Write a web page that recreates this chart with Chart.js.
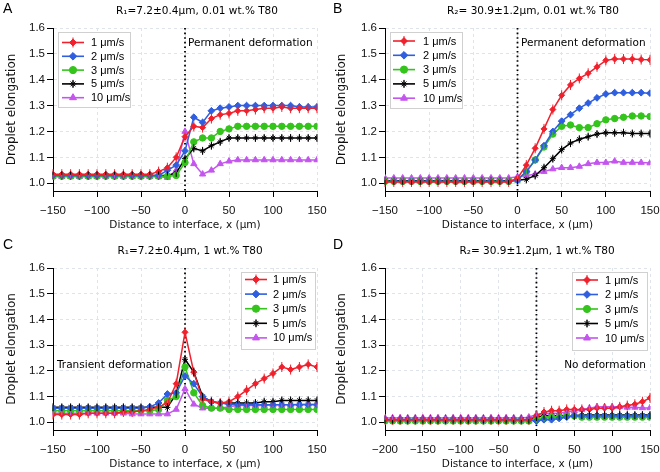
<!DOCTYPE html>
<html>
<head>
<meta charset="utf-8">
<script src="https://cdn.jsdelivr.net/npm/chart.js@4.4.0/dist/chart.umd.min.js"></script>
<style>
body { margin: 0; background: #fff; }
#wrap { position: relative; width: 660px; height: 472px; }
.cell { position: absolute; width: 330px; height: 236px; }
</style>
</head>
<body>
<div id="wrap">
  <div class="cell" style="left:0;top:0"><canvas id="cA" width="330" height="236"></canvas></div>
  <div class="cell" style="left:330px;top:0"><canvas id="cB" width="330" height="236"></canvas></div>
  <div class="cell" style="left:0;top:236px"><canvas id="cC" width="330" height="236"></canvas></div>
  <div class="cell" style="left:330px;top:236px"><canvas id="cD" width="330" height="236"></canvas></div>
</div>
<script>
// x positions (µm)
const xStd = [-150,-140,-130,-120,-110,-100,-90,-80,-70,-60,-50,-40,-30,-20,-10,0,10,20,30,40,50,60,70,80,90,100,110,120,130,140,150];
const xWide = [-200,-190,-180,-170,-160,-150,-140,-130,-120,-110,-100,-90,-80,-70,-60,-50,-40,-30,-20,-10,0,10,20,30,40,50,60,70,80,90,100,110,120,130,140,150];
const xTicksStd = [-150,-100,-50,0,50,100,150];
const xTicksWide = [-200,-150,-100,-50,0,50,100,150];
const yTicks = [1.0,1.1,1.2,1.3,1.4,1.5,1.6];
const speeds = ['1 μm/s','2 μm/s','3 μm/s','5 μm/s','10 μm/s'];

// A: R1, 0.01 wt.%
const a1 = [1.035,1.035,1.035,1.035,1.035,1.035,1.035,1.035,1.035,1.035,1.035,1.035,1.045,1.06,1.10,1.18,1.22,1.215,1.25,1.265,1.27,1.28,1.28,1.285,1.29,1.29,1.295,1.29,1.29,1.29,1.29];
const a2 = [1.03,1.03,1.03,1.03,1.03,1.03,1.03,1.03,1.03,1.03,1.03,1.03,1.03,1.05,1.07,1.125,1.255,1.235,1.28,1.29,1.295,1.30,1.30,1.30,1.30,1.30,1.30,1.30,1.295,1.295,1.295];
const a3 = [1.027,1.027,1.027,1.027,1.027,1.027,1.027,1.027,1.027,1.027,1.027,1.027,1.027,1.027,1.03,1.08,1.16,1.175,1.175,1.20,1.21,1.22,1.22,1.22,1.22,1.22,1.22,1.22,1.22,1.22,1.22];
const a4 = [1.03,1.03,1.03,1.03,1.03,1.03,1.03,1.03,1.03,1.03,1.03,1.03,1.03,1.03,1.04,1.095,1.135,1.125,1.145,1.16,1.175,1.175,1.175,1.175,1.175,1.175,1.175,1.175,1.175,1.175,1.175];
const a5 = [1.025,1.025,1.025,1.025,1.025,1.025,1.025,1.025,1.025,1.025,1.025,1.025,1.025,1.022,1.05,1.20,1.075,1.035,1.05,1.075,1.085,1.09,1.09,1.09,1.09,1.09,1.09,1.09,1.09,1.09,1.09];

// B: R2, 0.01 wt.%
const b1 = [1.005,1.005,1.005,1.005,1.005,1.005,1.005,1.005,1.005,1.005,1.005,1.005,1.005,1.005,1.005,1.02,1.07,1.135,1.21,1.285,1.34,1.38,1.405,1.425,1.45,1.475,1.48,1.48,1.48,1.478,1.477];
const b2 = [1.007,1.007,1.007,1.007,1.007,1.007,1.007,1.007,1.007,1.007,1.007,1.007,1.007,1.007,1.007,1.012,1.045,1.09,1.145,1.20,1.24,1.265,1.29,1.31,1.33,1.345,1.35,1.35,1.35,1.35,1.348];
const b3 = [1.007,1.007,1.007,1.007,1.007,1.007,1.007,1.007,1.007,1.007,1.007,1.007,1.007,1.007,1.007,1.012,1.045,1.09,1.14,1.19,1.22,1.225,1.215,1.215,1.23,1.245,1.25,1.255,1.26,1.26,1.258];
const b4 = [1.01,1.01,1.01,1.01,1.01,1.01,1.01,1.01,1.01,1.01,1.01,1.01,1.01,1.01,1.01,1.012,1.015,1.03,1.06,1.095,1.13,1.155,1.17,1.18,1.19,1.195,1.195,1.195,1.192,1.192,1.192];
const b5 = [1.02,1.02,1.02,1.02,1.02,1.02,1.02,1.02,1.02,1.02,1.02,1.02,1.02,1.02,1.02,1.025,1.03,1.035,1.045,1.055,1.06,1.06,1.065,1.075,1.08,1.08,1.085,1.08,1.08,1.08,1.078];

// C: R1, 1 wt.%
const c1 = [1.03,1.03,1.03,1.03,1.035,1.035,1.035,1.035,1.04,1.04,1.045,1.05,1.06,1.075,1.15,1.35,1.195,1.09,1.08,1.075,1.08,1.10,1.125,1.15,1.17,1.19,1.215,1.205,1.215,1.225,1.215];
const c2 = [1.055,1.055,1.055,1.055,1.055,1.055,1.055,1.055,1.055,1.055,1.055,1.06,1.075,1.11,1.115,1.18,1.15,1.10,1.08,1.075,1.07,1.068,1.068,1.068,1.068,1.068,1.068,1.068,1.068,1.068,1.068];
const c3 = [1.045,1.045,1.045,1.045,1.045,1.045,1.045,1.045,1.045,1.045,1.045,1.045,1.05,1.085,1.10,1.215,1.115,1.065,1.055,1.055,1.05,1.05,1.05,1.05,1.05,1.05,1.05,1.05,1.05,1.05,1.05];
const c4 = [1.058,1.058,1.058,1.058,1.058,1.058,1.058,1.058,1.058,1.058,1.058,1.058,1.058,1.058,1.11,1.245,1.195,1.10,1.08,1.075,1.075,1.075,1.075,1.075,1.08,1.08,1.085,1.085,1.085,1.085,1.085];
const c5 = [1.035,1.035,1.035,1.035,1.035,1.035,1.035,1.035,1.035,1.032,1.032,1.032,1.032,1.032,1.05,1.13,1.07,1.055,1.055,1.055,1.06,1.065,1.065,1.065,1.065,1.068,1.068,1.068,1.07,1.07,1.07];

// D: R2, 1 wt.%
const d1 = [1.01,1.01,1.01,1.01,1.01,1.01,1.01,1.01,1.01,1.01,1.01,1.01,1.01,1.01,1.01,1.01,1.01,1.01,1.01,1.01,1.025,1.04,1.045,1.045,1.05,1.05,1.05,1.05,1.055,1.055,1.055,1.06,1.065,1.07,1.08,1.095];
const d2 = [1.01,1.01,1.01,1.01,1.01,1.01,1.01,1.01,1.01,1.01,1.01,1.01,1.01,1.01,1.01,1.01,1.01,1.01,1.01,1.01,1.005,1.01,1.01,1.015,1.02,1.025,1.025,1.025,1.025,1.025,1.025,1.025,1.025,1.025,1.025,1.025];
const d3 = [1.005,1.005,1.005,1.005,1.005,1.005,1.005,1.005,1.005,1.005,1.005,1.005,1.005,1.005,1.005,1.005,1.005,1.005,1.005,1.005,1.01,1.015,1.02,1.02,1.025,1.025,1.02,1.02,1.02,1.02,1.02,1.02,1.02,1.02,1.02,1.02];
const d4 = [1.01,1.01,1.01,1.01,1.01,1.01,1.01,1.01,1.01,1.01,1.01,1.01,1.01,1.01,1.01,1.01,1.01,1.01,1.01,1.01,1.02,1.025,1.025,1.025,1.025,1.025,1.028,1.028,1.028,1.028,1.028,1.028,1.028,1.028,1.028,1.028];
const d5 = [1.017,1.017,1.017,1.017,1.017,1.017,1.017,1.017,1.017,1.017,1.017,1.017,1.017,1.017,1.017,1.017,1.017,1.017,1.017,1.02,1.03,1.035,1.035,1.035,1.04,1.045,1.05,1.055,1.06,1.06,1.06,1.06,1.058,1.058,1.056,1.056];

const colors = ['#f0202c', '#2f5fe0', '#34c41c', '#000000', '#c455ee'];
const markers = ['rectRot', 'rectRot', 'circle', 'star', 'triangle'];
const radii = [3, 3.4, 3.2, 3, 3.6];
const errLen = [5, 3, 3, 4, 2];

const tickFont = { family: 'Liberation Sans, Arial, sans-serif', size: 11.5 };
const textFace = 'DejaVu Sans, Verdana, sans-serif';

const decor = {
  id: 'decor',
  beforeDatasetsDraw(chart, args, o) {
    const ctx = chart.ctx, a = chart.chartArea;
    const x0 = chart.scales.x.getPixelForValue(0);
    ctx.save();
    ctx.strokeStyle = '#000';
    ctx.lineWidth = 1.8;
    ctx.setLineDash([1.6, 3]);
    ctx.beginPath();
    ctx.moveTo(x0, a.top);
    ctx.lineTo(x0, a.bottom);
    ctx.stroke();
    ctx.restore();
  },
  afterDatasetsDraw(chart, args, o) {
    const ctx = chart.ctx;
    ctx.save();
    chart.data.datasets.forEach((ds, i) => {
      const meta = chart.getDatasetMeta(i);
      ctx.strokeStyle = ds.borderColor;
      ctx.lineWidth = 1;
      meta.data.forEach(p => {
        ctx.beginPath();
        ctx.moveTo(p.x, p.y - errLen[i]);
        ctx.lineTo(p.x, p.y + errLen[i]);
        ctx.stroke();
      });
    });
    ctx.restore();
  },
  afterDraw(chart, args, o) {
    const ctx = chart.ctx;
    ctx.save();
    // panel letter and title
    ctx.fillStyle = '#000';
    ctx.textBaseline = 'middle';
    ctx.font = '14px Liberation Sans, Arial, sans-serif';
    ctx.textAlign = 'left';
    ctx.fillText(o.letter, 3, 9);
    ctx.font = '10.5px ' + textFace;
    ctx.textAlign = 'center';
    ctx.fillText(o.title, o.titleX, o.titleY);
    // annotation
    ctx.font = '10.5px ' + textFace;
    ctx.textAlign = o.noteAlign;
    ctx.fillText(o.note, o.noteX, o.noteY);
    // legend
    const L = o.legend;
    ctx.fillStyle = '#fff';
    ctx.fillRect(L.x, L.y, L.w, L.h);
    ctx.strokeStyle = '#d0d0d0';
    ctx.lineWidth = 1;
    ctx.strokeRect(L.x + 0.5, L.y + 0.5, L.w, L.h);
    ctx.font = '11px Liberation Sans, Arial, sans-serif';
    ctx.textAlign = 'left';
    chart.data.datasets.forEach((ds, i) => {
      const ry = L.row0 + i * L.step;
      ctx.strokeStyle = ds.borderColor;
      ctx.lineWidth = 1.6;
      ctx.beginPath();
      ctx.moveTo(L.lx, ry);
      ctx.lineTo(L.lx + 22, ry);
      ctx.stroke();
      ctx.lineWidth = 1;
      ctx.beginPath();
      ctx.moveTo(L.lx + 11, ry - errLen[i]);
      ctx.lineTo(L.lx + 11, ry + errLen[i]);
      ctx.stroke();
      ctx.fillStyle = ds.borderColor;
      Chart.helpers.drawPoint(ctx, { pointStyle: markers[i], radius: radii[i] + 0.4, borderWidth: 1 }, L.lx + 11, ry);
      ctx.fillStyle = '#000';
      ctx.fillText(ds.label, L.tx, ry + 0.5);
    });
    ctx.restore();
  }
};

function makeChart(id, xs, series, cfg) {
  new Chart(document.getElementById(id), {
    type: 'line',
    data: {
      datasets: series.map((ys, i) => ({
        label: speeds[i],
        data: xs.map((x, j) => ({ x: x, y: ys[j] })),
        borderColor: colors[i],
        backgroundColor: colors[i],
        pointStyle: markers[i],
        pointRadius: radii[i],
        pointBorderWidth: 1,
        borderWidth: 1.5,
        tension: 0
      }))
    },
    options: {
      responsive: false,
      animation: false,
      layout: { padding: { top: cfg.top, right: cfg.right, left: 0, bottom: 0 } },
      plugins: { legend: { display: false }, tooltip: { enabled: false }, decor: cfg },
      scales: {
        x: {
          type: 'linear', min: xs[0], max: 150,
          afterBuildTicks: s => { s.ticks = cfg.xticks.map(v => ({ value: v })); },
          afterFit: s => { s.height = cfg.xh; s.paddingLeft = 0; s.paddingRight = 0; },
          grid: { color: '#dfe4ea', tickColor: '#000', tickLength: 6, lineWidth: 1 },
          border: { color: '#000', width: 1, dash: [3, 3] },
          ticks: { font: tickFont, color: '#111', padding: 7, maxRotation: 0,
                   callback: v => String(v).replace('-', '\u2212') },
          title: { display: true, text: 'Distance to interface, x (μm)', color: '#111',
                   font: { family: textFace, size: 10.5 }, padding: { top: 0, bottom: cfg.xtb } }
        },
        y: {
          min: 0.97, max: 1.6,
          afterBuildTicks: s => { s.ticks = yTicks.map(v => ({ value: v })); },
          afterFit: s => { s.width = cfg.yw; s.paddingTop = 0; s.paddingBottom = 0; },
          grid: { color: '#dfe4ea', tickColor: '#000', tickLength: 6, lineWidth: 1 },
          border: { color: '#000', width: 1, dash: [3, 3] },
          ticks: { font: tickFont, color: '#111', padding: 2, callback: v => v.toFixed(1) },
          title: { display: true, text: 'Droplet elongation', color: '#111',
                   font: { family: textFace, size: 12 }, padding: { top: 5, bottom: 0 } }
        }
      }
    },
    plugins: [decor]
  });
}

makeChart('cA', xStd, [a1, a2, a3, a4, a5], {
  top: 28, right: 13, yw: 53, xh: 45, xtb: 4, xticks: xTicksStd,
  letter: 'A', title: 'R\u2081=7.2±0.4μm, 0.01 wt.% T80', titleX: 197, titleY: 11,
  note: 'Permanent deformation', noteX: 188, noteY: 43, noteAlign: 'left',
  legend: { x: 58, y: 32, w: 72, h: 75, row0: 42.5, step: 13.8, lx: 62, tx: 91 }
});
makeChart('cB', xStd, [b1, b2, b3, b4, b5], {
  top: 28, right: 10, yw: 55, xh: 45, xtb: 4, xticks: xTicksStd,
  letter: 'B', title: 'R\u2082= 30.9±1.2μm, 0.01 wt.% T80', titleX: 203, titleY: 11,
  note: 'Permanent deformation', noteX: 191, noteY: 43, noteAlign: 'left',
  legend: { x: 60, y: 32, w: 72, h: 76, row0: 41, step: 14.3, lx: 63, tx: 93 }
});
makeChart('cC', xStd, [c1, c2, c3, c4, c5], {
  top: 32, right: 13, yw: 53, xh: 42, xtb: 1, xticks: xTicksStd,
  letter: 'C', title: 'R\u2081=7.2±0.4μm, 1 wt.% T80', titleX: 190, titleY: 15,
  note: 'Transient deformation', noteX: 57, noteY: 129, noteAlign: 'left',
  legend: { x: 241, y: 36, w: 74, h: 77, row0: 43.5, step: 14.6, lx: 245, tx: 273 }
});
makeChart('cD', xWide, [d1, d2, d3, d4, d5], {
  top: 32, right: 10, yw: 55, xh: 42, xtb: 1, xticks: xTicksWide,
  letter: 'D', title: 'R\u2082= 30.9±1.2μm, 1 wt.% T80', titleX: 207, titleY: 15,
  note: 'No deformation', noteX: 316, noteY: 129, noteAlign: 'right',
  legend: { x: 242, y: 36, w: 75, h: 78, row0: 44, step: 14.5, lx: 246, tx: 275 }
});
</script>
</body>
</html>
